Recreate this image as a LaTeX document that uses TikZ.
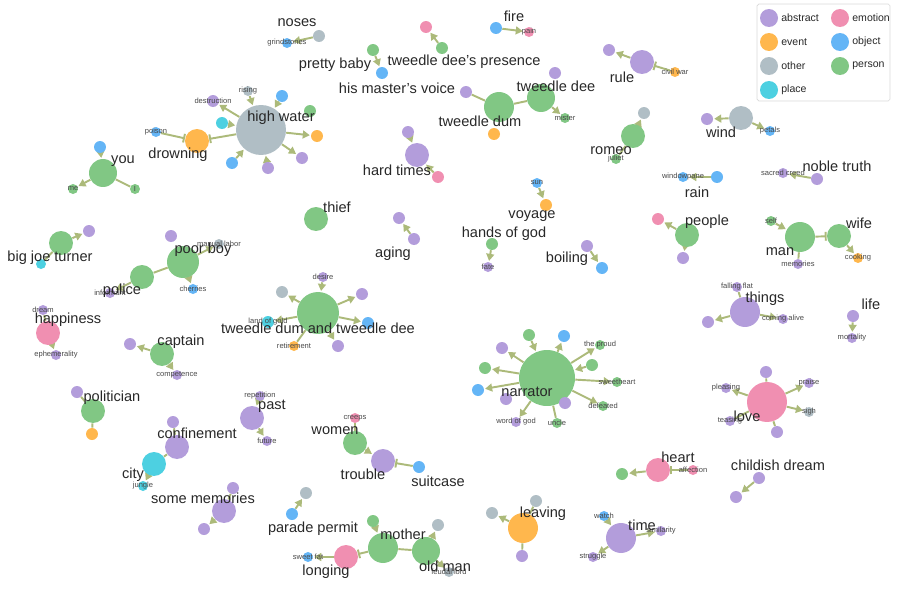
\documentclass[tikz,border=0pt]{standalone}
\usepackage{fontspec}
\setmainfont{Liberation Sans}
\usetikzlibrary{arrows.meta,backgrounds}

\definecolor{abstract}{RGB}{179,157,219}
\definecolor{emotion}{RGB}{240,143,177}
\definecolor{event}{RGB}{255,183,77}
\definecolor{object}{RGB}{100,181,246}
\definecolor{other}{RGB}{176,190,197}
\definecolor{person}{RGB}{129,199,132}
\definecolor{place}{RGB}{77,208,225}
\definecolor{edgecol}{RGB}{172,186,122}
\definecolor{ink}{RGB}{40,40,40}

\begin{document}
\begin{tikzpicture}[x = 0.02cm, y = -0.02cm,
    ent/.style = {shape = circle, draw = none, inner sep = 0pt},
    big/.style = {inner sep = 0pt, text = ink, font = \fontsize{8.3}{9}\selectfont},
    tiny/.style = {inner sep = 0pt, text = ink!85, font = \fontsize{4.3}{5}\selectfont},
    link/.style = {draw = edgecol, line width = 1.1pt, shorten >= 0.5pt,
        -{Triangle[width = 4.5pt, length = 4pt]}},
    plain/.style = {draw = edgecol, line width = 1.1pt},
    stop/.style = {draw = edgecol, line width = 1.1pt,
        -{Bar[width = 5pt, line width = 1.1pt]}}]
    \useasboundingbox (0,0) rectangle (900,602);

    % entities
    \foreach \n/\x/\y/\r/\c in {
        nose/319/36/6/other, grind/287/43/5/object, baby/373/50/6/person,
        voice/382/73/6/object, pres/442/48/6/person, presE/426/27/6/emotion,
        fire/496/28/6/object, pain/529/32/5/emotion,
        dum/499/107/15/person, dee/541/98/14/person, dumA/466/92/6/abstract,
        deeA/555/73/6/abstract, mister/565/118/5/person, dumE/494/134/6/event,
        hard/417/155/12/abstract, hardA/408/132/6/abstract, hardE/438/177/6/emotion,
        hw/261/130/25/other, drown/197/141/12/event, poison/156/132/5/object,
        destr/213/101/6/abstract, rising/248/91/5/other, hwB1/282/96/6/object,
        hwP/310/111/6/person, hwE/317/136/6/event, hwA1/302/158/6/abstract,
        hwA2/268/168/6/abstract, hwB2/232/163/6/object, hwC/222/123/6/place,
        you/103/173/14/person, youB/100/147/6/object, me/73/189/5/person, i/135/189/5/person,
        joe/61/243/12/person, joeA/89/231/6/abstract, joeC/41/264/5/place,
        poor/183/262/16/person, poorA/171/236/6/abstract, labor/219/244/5/other,
        cherries/193/289/5/object, police/142/277/12/person, informant/110/293/5/abstract,
        thief/316/219/12/person, aging/399/218/6/abstract, agingA/414/239/6/abstract,
        sun/537/183/5/object, voyage/546/205/6/event, hands/492/244/6/person,
        fate/488/267/5/abstract, boil/587/246/6/abstract, boilB/602/268/6/object,
        rule/642/62/12/abstract, ruleA/609/50/6/abstract, civil/675/72/5/event,
        wind/741/118/12/other, windA/707/119/6/abstract, petals/770/131/5/object,
        romeo/633/136/12/person, romeoO/644/113/6/other, juliet/616/159/5/person,
        windowpane/683/177/5/object, rain/717/177/6/object,
        creed/783/173/5/abstract, truth/817/179/6/abstract,
        people/687/235/12/person, peopleE/658/219/6/emotion, peopleA/683/258/6/abstract,
        man/800/237/15/person, wife/839/236/12/person, self/771/221/5/person,
        memories/798/264/5/abstract, cooking/858/258/5/event,
        things/745/312/15/abstract, falling/737/287/5/abstract,
        thingsA/708/322/6/abstract, coming/783/319/5/abstract,
        life/853/316/6/abstract, mortality/852/338/5/abstract,
        love/767/402/20/emotion, loveA1/766/372/6/abstract, pleasing/726/388/5/abstract,
        praise/809/383/5/abstract, sigh/809/412/5/other, teasing/730/421/5/abstract,
        loveA2/777/432/6/abstract,
        heart/658/470/12/emotion, heartP/622/474/6/person, affection/693/470/5/emotion,
        child/759/478/6/abstract, childA/736/497/6/abstract,
        time/621/538/15/abstract, watch/604/516/5/object,
        similarity/661/531/5/abstract, struggle/593/557/5/abstract,
        leave/523/528/15/event, leaveO1/492/513/6/other, leaveO2/536/501/6/other,
        leaveA/522/556/6/abstract,
        narr/547/378/28/person, narrP1/529/335/6/person, narrB1/564/336/6/object,
        proud/600/345/5/person, narrP2/592/365/6/person, sweet/617/382/5/person,
        defeated/603/406/5/person, uncle/557/423/5/person, god/516/422/5/abstract,
        narrA1/565/403/6/abstract, narrA2/506/399/6/abstract, narrB2/478/390/6/object,
        narrP3/485/368/6/person, narrA3/502/348/6/abstract,
        tdd/318/313/21/person, desire/323/277/5/abstract, tddO/282/292/6/other,
        tddA1/362/294/6/abstract, gold/268/322/6/place, tddB/368/323/6/object,
        retire/294/346/5/event, tddA2/338/346/6/abstract,
        happy/48/333/12/emotion, dream/43/310/5/abstract, ephem/56/355/5/abstract,
        captain/162/354/12/person, captainA/130/344/6/abstract, competence/177/375/5/abstract,
        pol/93/411/12/person, polA/77/392/6/abstract, polE/92/434/6/event,
        past/252/418/12/abstract, repetition/260/396/5/abstract, future/267/441/5/abstract,
        conf/177/447/12/abstract, confA/173/422/6/abstract,
        city/154/464/12/place, jungle/143/486/5/place,
        some/224/511/12/abstract, someA1/233/488/6/abstract, someA2/204/529/6/abstract,
        women/355/443/12/person, creeps/355/418/5/emotion,
        trouble/383/461/12/abstract, suitcase/419/467/6/object,
        parade/306/493/6/other, paradeB/292/514/6/object,
        mother/383/548/15/person, motherP/373/521/6/person,
        longing/346/557/12/emotion, sweetfat/308/557/5/object,
        oldman/426/551/14/person, oldO/438/525/6/other, feudal/449/572/5/other}
        \node[ent, fill = \c, minimum size = \r*0.04cm] (\n) at (\x,\y) {};

    % connectors
    \begin{pgfonlayer}{background}
    \foreach \a/\b in {nose/grind, baby/voice, pres/presE, fire/pain, dee/mister,
        hardA/hard, hardE/hard, hw/destr, rising/hw, hwB1/hw, hw/hwE, hw/hwA1,
        hwA2/hw, hwB2/hw, hwC/hw, youB/you, you/me, joe/joeA, poor/labor,
        poor/cherries, police/informant, agingA/aging, sun/voyage, hands/fate,
        boil/boilB, rule/ruleA, wind/windA, wind/petals, romeo/romeoO,
        rain/windowpane, truth/creed, people/peopleE, people/peopleA, self/man,
        wife/cooking, things/thingsA, things/coming, life/mortality,
        love/pleasing, love/praise, love/sigh, heart/heartP, child/childA,
        time/similarity, time/struggle, watch/time, leave/leaveO1,
        narrP1/narr, narr/narrB1, narr/proud, narrP2/narr, narr/sweet,
        narr/defeated, narr/god, narr/narrB2, narr/narrP3, narr/narrA3,
        desire/tdd, tdd/tddO, tdd/tddA1, tdd/gold, tdd/tddB, tdd/tddA2,
        happy/ephem, captain/captainA, captain/competence, past/future,
        repetition/past, city/jungle, some/someA2, women/trouble,
        paradeB/parade, longing/sweetfat, oldman/oldO, oldman/feudal, motherP/mother}
        \draw[link] (\a) -- (\b);
    \foreach \a/\b in {dum/dumA, dum/dee, you/i, joe/joeC, poor/police,
        romeo/juliet, man/memories, things/falling, love/teasing, love/loveA1,
        love/loveA2, leave/leaveO2, leave/leaveA, narr/uncle, tdd/retire,
        happy/dream, pol/polA, pol/polE, conf/city, conf/confA, some/someA1,
        creeps/women, mother/oldman}
        \draw[plain] (\a) -- (\b);
    \foreach \a/\b in {hw/drown, poison/drown, civil/rule, man/wife,
        affection/heart, suitcase/trouble, mother/longing}
        \draw[stop] (\a) -- (\b);
    \end{pgfonlayer}

    % small labels
    \foreach \n/\t in {grind/grindstones, pain/pain, mister/mister, poison/poison,
        destr/destruction, rising/rising, me/me, i/I, labor/manual labor,
        cherries/cherries, informant/informant, sun/sun, fate/fate,
        civil/civil war, petals/petals, juliet/juliet, windowpane/windowpane,
        creed/sacred creed, self/self, memories/memories, cooking/cooking,
        falling/falling flat, coming/coming alive, mortality/mortality,
        pleasing/pleasing, praise/praise, sigh/sigh, teasing/teasing,
        affection/affection, watch/watch, similarity/similarity,
        struggle/struggle, proud/the proud, sweet/sweetheart, defeated/defeated,
        uncle/uncle, god/word of god, desire/desire, gold/land of gold,
        retire/retirement, dream/dream, ephem/ephemerality,
        competence/competence, repetition/repetition, future/future,
        jungle/jungle, creeps/creeps, sweetfat/sweet fat, feudal/feudal lord}
        \node[tiny] (\n-t) at (\n) {\t};

    % labels
    \foreach \n/\x/\y/\t in {nose/297/23/noses, baby/335/65/pretty baby,
        voice/397/88/his master's voice, pres/464/62/tweedle dee's presence,
        fire/514/16/fire, dee/556/86/tweedle dee, dum/480/121/tweedle dum,
        hard/397/170/hard times, hw/281/118/high water, drown/178/155/drowning,
        you/123/161/you, joe/50/258/big joe turner, poor/203/250/poor boy,
        police/122/291/police, thief/337/207/thief, aging/393/254/aging,
        voyage/532/216/voyage, hands/504/234/hands of god, boil/567/259/boiling,
        rule/622/77/rule, wind/721/132/wind, romeo/611/151/romeo,
        rain/697/192/rain, truth/837/166/noble truth, people/707/222/people,
        wife/859/223/wife, man/780/252/man, things/765/299/things,
        life/871/304/life, love/747/416/love, heart/678/457/heart,
        child/778/465/childish dream, time/642/525/time, leave/543/514/leaving,
        narr/527/392/narrator, tdd/318/328/tweedle dum and tweedle dee,
        happy/68/320/happiness, captain/181/342/captain, pol/112/398/politician,
        past/272/406/past, conf/197/433/confinement, city/133/475/city,
        some/203/498/some memories, women/335/431/women, trouble/363/474/trouble,
        suitcase/438/481/suitcase, parade/313/529/parade permit,
        mother/403/534/mother, longing/326/572/longing, oldman/445/566/old man}
        \node[big] (\n-l) at (\x,\y) {\t};

    % legend
    \draw[black!15, fill = white, rounded corners = 1pt] (757,4) rectangle (890,101);
    \foreach \c/\x/\y in {abstract/769/18, emotion/840/18, event/769/42,
        object/840/42, other/769/66, person/840/66, place/769/90}
        \node[ent, fill = \c, minimum size = 0.72cm*0.5] (key-\c) at (\x,\y) {}
            node[big, anchor = west, font = \fontsize{6}{7}\selectfont] (key-\c-t)
            at (\x+12,\y) {\c};
\end{tikzpicture}
\end{document}
